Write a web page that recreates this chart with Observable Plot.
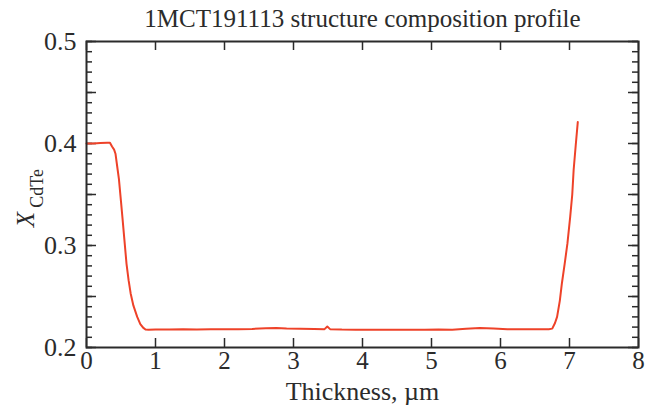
<!DOCTYPE html>
<html><head><meta charset="utf-8">
<script src="https://cdn.jsdelivr.net/npm/d3@7"></script>
<script src="https://cdn.jsdelivr.net/npm/@observablehq/plot@0.6"></script>
<style>body{margin:0;background:#fff} svg{display:block}</style>
</head><body><div id="chart"></div>
<script>
const title = "1MCT191113 structure composition profile";
const xLabel = "Thickness, µm";
const yLabelMain = "X";
const yLabelSub = "CdTe";

const thickness = [0, 0.1, 0.2, 0.3, 0.34, 0.37, 0.40, 0.42, 0.45, 0.47, 0.50, 0.52, 0.55, 0.58, 0.61, 0.64, 0.68, 0.735, 0.78, 0.82, 0.855,
  0.9, 1.0, 1.2, 1.4, 1.6, 1.8, 2.0, 2.2, 2.4, 2.6, 2.75, 2.9, 3.1, 3.3, 3.45, 3.49, 3.53, 3.7, 3.9, 4.1, 4.3, 4.5, 4.7, 4.9, 5.1, 5.3, 5.5, 5.7, 5.9, 6.1, 6.3, 6.5, 6.7,
  6.75, 6.79, 6.82, 6.86, 6.89, 6.93, 6.97, 7.01, 7.04, 7.06, 7.09, 7.12];
const xcdte = [0.400, 0.400, 0.4005, 0.4008, 0.4008, 0.397, 0.394, 0.390, 0.375, 0.365, 0.343, 0.328, 0.305, 0.282, 0.266, 0.253, 0.241, 0.230, 0.223, 0.2195, 0.2176,
  0.2175, 0.2177, 0.2176, 0.2178, 0.2177, 0.2179, 0.2178, 0.2180, 0.2182, 0.2188, 0.2192, 0.2186, 0.2183, 0.2182, 0.2180, 0.2205, 0.2180, 0.2176, 0.2175, 0.2174, 0.2175, 0.2173, 0.2175, 0.2174, 0.2176, 0.2175, 0.2183, 0.2190, 0.2186, 0.2180, 0.2178, 0.2178, 0.2180,
  0.2185, 0.224, 0.230, 0.246, 0.263, 0.282, 0.302, 0.328, 0.350, 0.374, 0.398, 0.421];

const xTicks = [0, 1, 2, 3, 4, 5, 6, 7, 8];
const yTicks = [0.2, 0.3, 0.4, 0.5];
const yMid = [0.25, 0.35, 0.45];
const yMinor = d3.range(20, 51).map(i => i / 100);

const data = thickness.map((t, i) => ({t, v: xcdte[i]}));

const W = 654, H = 405, mL = 86, mR = 16, mT = 41, mB = 58;
const iw = W - mL - mR, ih = H - mT - mB;
const ink = "#2b2b2b";
const font = "'Liberation Serif', 'Times New Roman', serif";

const chart = Plot.plot({
  width: W, height: H,
  marginLeft: mL, marginRight: mR, marginTop: mT, marginBottom: mB,
  style: `font-family: ${font}; font-size: 24px; color: ${ink}; background: #fff;`,
  x: {domain: [0, 8]},
  y: {domain: [0.2, 0.5]},
  marks: [
    Plot.tickY(yMinor, {y: d => d, stroke: ink, strokeWidth: 1.5, insetRight: iw - 6}),
    Plot.tickY(yMinor, {y: d => d, stroke: ink, strokeWidth: 1.5, insetLeft: iw - 6}),
    Plot.tickY(yMid.concat(yTicks), {y: d => d, stroke: ink, strokeWidth: 1.5, insetRight: iw - 10}),
    Plot.tickY(yMid.concat(yTicks), {y: d => d, stroke: ink, strokeWidth: 1.5, insetLeft: iw - 10}),
    Plot.tickX(xTicks, {x: d => d, stroke: ink, strokeWidth: 1.5, insetTop: ih - 9}),
    Plot.tickX(xTicks, {x: d => d, stroke: ink, strokeWidth: 1.5, insetBottom: ih - 9}),
    Plot.axisX(xTicks, {tickSize: 0, tickPadding: 4, fontSize: 25, fontFamily: font, label: null, fill: ink}),
    Plot.axisY(yTicks, {tickSize: 0, tickPadding: 10, fontSize: 26, fontFamily: font, label: null, fill: ink, tickFormat: d3.format(".1f")}),
    Plot.line(data, {x: "t", y: "v", stroke: "#ee4229", strokeWidth: 2, curve: "linear"}),
    Plot.frame({stroke: ink, strokeWidth: 2}),
    Plot.text([title], {text: d => d, frameAnchor: "top", textAnchor: "middle", lineAnchor: "bottom", dy: -15, fontSize: 25, fontFamily: font, fill: ink}),
    Plot.text([xLabel], {text: d => d, frameAnchor: "bottom", textAnchor: "middle", lineAnchor: "bottom", dy: 52, fontSize: 26, fontFamily: font, fill: ink}),
    Plot.text([yLabelMain], {text: d => d, frameAnchor: "left", textAnchor: "middle", lineAnchor: "bottom", rotate: -90, dx: -53, dy: 25, fontSize: 25, fontStyle: "italic", fontFamily: font, fill: ink}),
    Plot.text([yLabelSub], {text: d => d, frameAnchor: "left", textAnchor: "middle", lineAnchor: "bottom", rotate: -90, dx: -44, dy: -6, fontSize: 18, fontFamily: font, fill: ink})
  ]
});
document.getElementById("chart").append(chart);
</script>
</body></html>
